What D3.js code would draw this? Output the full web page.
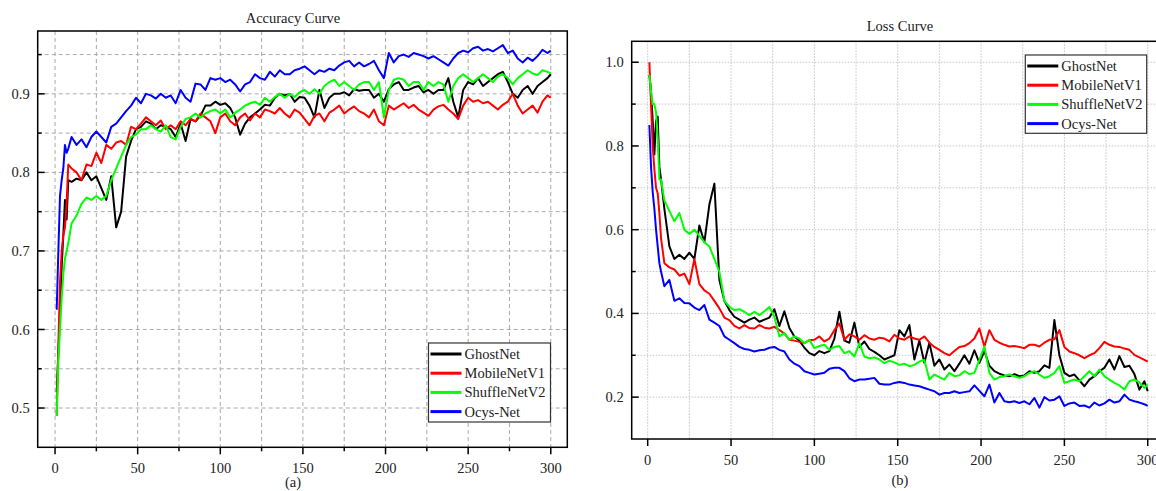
<!DOCTYPE html>
<html lang="en">
<head>
<meta charset="UTF-8">
<title>Accuracy / Loss Curves</title>
<script src="https://d3js.org/d3.v7.min.js"></script>
<style>
  html, body { margin: 0; padding: 0; background: #fff; overflow: hidden; }
  svg { display: block; font-family: "Liberation Serif", "Times New Roman", serif; }
</style>
</head>
<body>
<svg id="chart" width="1156" height="491"></svg>
<script>
const epochs = [1,2,3,4,5,6,7,8,
  10,13,16,19,22,25,28,31,34,37,
  40,43,46,49,52,55,58,61,64,67,
  70,73,76,79,82,85,88,91,94,97,
  100,103,106,109,112,115,118,121,124,127,
  130,133,136,139,142,145,148,151,154,157,
  160,163,166,169,172,175,178,181,184,187,
  190,193,196,199,202,205,208,211,214,217,
  220,223,226,229,232,235,238,241,244,247,
  250,253,256,259,262,265,268,271,274,277,
  280,283,286,289,292,295,298,300];

const modelNames = ["GhostNet", "MobileNetV1", "ShuffleNetV2", "Ocys-Net"];
const modelColors = ["#000000", "#ff0000", "#00ff00", "#0000ff"];

// accuracy (a)
const accGhost = [.52,.57,.62,.68,.72,.765,.74,.79,
  .788,.792,.79,.8,.79,.795,.78,.765,.795,.73,
  .75,.82,.84,.855,.858,.865,.862,.855,.86,.858,
  .855,.845,.862,.84,.868,.865,.872,.885,.885,.89,
  .886,.888,.882,.87,.848,.862,.87,.875,.88,.886,
  .885,.895,.9,.898,.9,.89,.896,.895,.885,.87,
  .905,.882,.895,.9,.9,.902,.898,.906,.904,.905,
  .905,.895,.9,.89,.906,.912,.915,.905,.905,.908,
  .91,.902,.905,.9,.905,.905,.92,.89,.87,.905,
  .915,.912,.92,.91,.915,.92,.925,.928,.915,.9,
  .895,.905,.91,.9,.91,.915,.92,.925];
const accMobile = [.49,.58,.66,.70,.72,.73,.76,.81,
  .805,.8,.79,.81,.808,.825,.812,.835,.83,.838,
  .84,.835,.858,.855,.862,.87,.865,.86,.866,.855,
  .86,.855,.865,.86,.868,.865,.875,.87,.865,.85,
  .87,.875,.865,.86,.87,.875,.866,.875,.87,.88,
  .878,.875,.882,.875,.87,.88,.876,.868,.86,.872,
  .875,.865,.876,.88,.885,.875,.88,.884,.878,.875,
  .87,.88,.865,.86,.885,.88,.884,.888,.882,.886,
  .88,.876,.872,.88,.884,.886,.88,.875,.868,.885,
  .895,.89,.892,.888,.89,.885,.88,.886,.89,.9,
  .885,.875,.88,.885,.876,.89,.898,.895];
const accShuffle = [.49,.56,.60,.64,.67,.69,.70,.71,
  .735,.745,.76,.768,.765,.77,.765,.77,.79,.805,
  .82,.835,.845,.848,.855,.855,.86,.855,.852,.86,
  .845,.842,.858,.868,.87,.875,.87,.875,.878,.88,
  .875,.88,.87,.876,.88,.885,.888,.89,.886,.895,
  .89,.896,.9,.895,.9,.896,.902,.905,.9,.906,
  .9,.91,.915,.918,.91,.915,.91,.905,.912,.915,
  .915,.905,.915,.87,.905,.918,.92,.918,.91,.915,
  .915,.905,.915,.91,.915,.912,.89,.91,.92,.925,
  .92,.915,.92,.925,.92,.915,.922,.925,.92,.912,
  .92,.925,.93,.926,.924,.93,.928,.926];
const accOcys = [.625,.70,.77,.79,.805,.835,.825,.83,
  .845,.835,.842,.832,.845,.852,.845,.838,.858,.862,
  .87,.878,.885,.895,.888,.9,.898,.894,.9,.895,
  .898,.888,.905,.895,.89,.913,.912,.905,.92,.918,
  .92,.915,.918,.912,.903,.912,.915,.925,.92,.918,
  .928,.922,.93,.925,.925,.93,.932,.935,.93,.925,
  .93,.928,.932,.93,.936,.94,.942,.935,.94,.935,
  .938,.942,.93,.92,.952,.94,.948,.95,.947,.952,
  .95,.948,.945,.948,.944,.94,.936,.945,.952,.955,
  .953,.958,.96,.955,.957,.954,.958,.962,.952,.955,
  .945,.94,.946,.942,.948,.956,.952,.955];

// loss (b)
const lossGhost = [.97,.93,.86,.78,.86,.87,.75,.72,
  .65,.56,.53,.54,.53,.545,.53,.61,.57,.66,
  .71,.48,.43,.408,.392,.385,.378,.385,.39,.38,
  .385,.39,.41,.37,.405,.365,.345,.335,.318,.305,
  .3,.31,.305,.31,.34,.404,.335,.33,.378,.32,
  .333,.315,.308,.3,.29,.295,.3,.36,.345,.372,
  .29,.335,.282,.33,.275,.29,.266,.278,.262,.28,
  .3,.28,.312,.282,.31,.275,.262,.256,.252,.25,
  .255,.25,.252,.262,.258,.262,.276,.27,.384,.3,
  .258,.25,.254,.24,.226,.242,.25,.262,.27,.29,
  .266,.298,.272,.275,.255,.218,.238,.214];
const lossMobile = [1.0,.9,.8,.745,.7,.687,.64,.58,
  .52,.51,.505,.49,.495,.47,.53,.47,.455,.447,
  .43,.412,.39,.384,.37,.364,.372,.365,.364,.372,
  .366,.364,.368,.36,.352,.337,.335,.332,.329,.336,
  .337,.345,.333,.34,.36,.376,.337,.35,.345,.337,
  .348,.34,.337,.342,.34,.333,.349,.34,.337,.345,
  .34,.337,.345,.33,.32,.313,.305,.3,.31,.32,
  .322,.329,.34,.364,.321,.36,.337,.33,.325,.321,
  .322,.32,.317,.325,.325,.321,.33,.337,.338,.36,
  .32,.309,.305,.3,.293,.3,.305,.317,.332,.325,
  .321,.32,.316,.313,.301,.295,.289,.285];
const lossShuffle = [.97,.93,.9,.9,.88,.82,.72,.72,
  .67,.645,.62,.64,.6,.59,.6,.585,.57,.56,
  .53,.5,.43,.416,.408,.41,.404,.396,.404,.396,
  .405,.415,.392,.345,.353,.337,.345,.34,.329,.337,
  .317,.322,.325,.313,.32,.322,.305,.31,.297,.329,
  .297,.293,.295,.29,.281,.287,.283,.277,.28,.274,
  .277,.285,.289,.242,.254,.248,.242,.258,.25,.252,
  .262,.255,.258,.289,.321,.258,.242,.248,.25,.254,
  .25,.246,.25,.258,.262,.254,.246,.25,.258,.274,
  .234,.238,.242,.238,.25,.262,.25,.266,.25,.242,
  .234,.228,.218,.238,.242,.235,.222,.23];
const lossOcys = [.85,.75,.69,.65,.6,.56,.52,.5,
  .465,.48,.43,.436,.425,.424,.414,.408,.42,.385,
  .378,.37,.345,.337,.329,.32,.315,.313,.309,.312,
  .313,.318,.32,.313,.309,.29,.28,.274,.262,.258,
  .254,.256,.258,.268,.27,.27,.262,.245,.238,.242,
  .242,.244,.246,.232,.23,.23,.234,.236,.234,.23,
  .228,.226,.222,.218,.214,.206,.21,.21,.214,.21,
  .212,.214,.228,.215,.202,.23,.187,.21,.19,.188,
  .19,.186,.19,.183,.198,.175,.2,.192,.194,.202,
  .179,.185,.187,.179,.18,.175,.187,.18,.185,.194,
  .187,.19,.206,.194,.19,.187,.183,.179];

const accTicks = [0.5, 0.6, 0.7, 0.8, 0.9];
const accMinor = [0.55, 0.65, 0.75, 0.85, 0.95];
const lossTicks = [0.2, 0.4, 0.6, 0.8, 1.0];
const lossMinor = [0.3, 0.5, 0.7, 0.9];
const epochTicks = [0, 50, 100, 150, 200, 250, 300];
const epochMinor = [25, 75, 125, 175, 225, 275];

const svg = d3.select("#chart");
svg.append("rect").attr("width", 1156).attr("height", 491).attr("fill", "#fff");

function drawPanel(opt) {
  const x = opt.x, y = opt.y;
  const [x0, x1] = x.range();
  const [y0, y1] = y.range(); // y0 bottom, y1 top
  const g = svg.append("g");

  // grid
  const gridX = epochTicks.concat(epochMinor);
  const gridY = opt.yGrid;
  g.selectAll(".gx").data(gridX).enter().append("line")
    .attr("x1", d => x(d)).attr("x2", d => x(d))
    .attr("y1", y1).attr("y2", y0)
    .attr("stroke", opt.gridColor).attr("stroke-width", 1)
    .attr("stroke-dasharray", opt.gridDash);
  g.selectAll(".gy").data(gridY).enter().append("line")
    .attr("x1", x0).attr("x2", x1)
    .attr("y1", d => y(d)).attr("y2", d => y(d))
    .attr("stroke", opt.gridColor).attr("stroke-width", 1)
    .attr("stroke-dasharray", opt.gridDash);

  // clip
  const clipId = "clip-" + opt.id;
  svg.append("clipPath").attr("id", clipId).append("rect")
    .attr("x", x0).attr("y", y1).attr("width", x1 - x0).attr("height", y0 - y1);

  const line = d3.line().x(d => x(d[0])).y(d => y(d[1]));
  const lines = g.append("g").attr("clip-path", `url(#${clipId})`);
  opt.series.forEach((s, i) => {
    lines.append("path")
      .datum(d3.zip(epochs, s))
      .attr("d", line)
      .attr("fill", "none")
      .attr("stroke", modelColors[i])
      .attr("stroke-width", 2)
      .attr("stroke-linejoin", "round");
  });

  // frame
  g.append("rect")
    .attr("x", x0).attr("y", y1).attr("width", x1 - x0).attr("height", y0 - y1)
    .attr("fill", "none").attr("stroke", "#000").attr("stroke-width", 1.5);

  // x ticks (outward)
  g.selectAll(".xt").data(epochTicks).enter().append("line")
    .attr("x1", d => x(d)).attr("x2", d => x(d))
    .attr("y1", y0).attr("y2", y0 + 7)
    .attr("stroke", "#000").attr("stroke-width", 1.5);
  if (opt.xMinor) {
    g.selectAll(".xm").data(epochMinor).enter().append("line")
      .attr("x1", d => x(d)).attr("x2", d => x(d))
      .attr("y1", y0).attr("y2", y0 + 4)
      .attr("stroke", "#000").attr("stroke-width", 1.5);
  }
  g.selectAll(".xl").data(epochTicks).enter().append("text")
    .attr("x", d => x(d)).attr("y", y0 + opt.xLabelOffset)
    .attr("text-anchor", "middle").attr("font-size", "14.5px").attr("fill", "#222")
    .text(d => d);

  // y ticks (inward)
  g.selectAll(".yt").data(opt.yTicks).enter().append("line")
    .attr("x1", x0).attr("x2", x0 + 7)
    .attr("y1", d => y(d)).attr("y2", d => y(d))
    .attr("stroke", "#000").attr("stroke-width", 1.5);
  g.selectAll(".ym").data(opt.yMinor).enter().append("line")
    .attr("x1", x0).attr("x2", x0 + 4)
    .attr("y1", d => y(d)).attr("y2", d => y(d))
    .attr("stroke", "#000").attr("stroke-width", 1.5);
  g.selectAll(".yl").data(opt.yTicks).enter().append("text")
    .attr("x", x0 - 8).attr("y", d => y(d)).attr("dy", "0.35em")
    .attr("text-anchor", "end").attr("font-size", "14.5px").attr("fill", "#222")
    .text(d => d.toFixed(1));

  // titles
  g.append("text").attr("x", opt.titleX).attr("y", opt.titleY)
    .attr("text-anchor", "middle").attr("font-size", "14.5px").attr("fill", "#222")
    .text(opt.title);
  g.append("text").attr("x", opt.titleX).attr("y", opt.capY)
    .attr("text-anchor", "middle").attr("font-size", "14.5px").attr("fill", "#222")
    .text(opt.caption);

  // legend
  const L = opt.legend;
  const lg = g.append("g").attr("transform", `translate(${L.x},${L.y})`);
  lg.append("rect").attr("width", L.w).attr("height", L.h)
    .attr("fill", "#fff").attr("stroke", "#333").attr("stroke-width", 1.2);
  modelNames.forEach((name, i) => {
    const cy = 11 + i * 19.2;
    lg.append("line").attr("x1", 2).attr("x2", 33).attr("y1", cy).attr("y2", cy)
      .attr("stroke", modelColors[i]).attr("stroke-width", 3);
    lg.append("text").attr("x", 36).attr("y", cy).attr("dy", "0.35em")
      .attr("font-size", "14.5px").attr("fill", "#222").text(name);
  });
}

drawPanel({
  id: "acc",
  x: d3.scaleLinear().domain([-10.5, 310]).range([37.7, 567.3]),
  y: d3.scaleLinear().domain([0.45, 0.98]).range([447.3, 31]),
  yGrid: accTicks.concat(accMinor),
  gridColor: "#aaaaaa", gridDash: "4,3",
  series: [accGhost, accMobile, accShuffle, accOcys],
  yTicks: accTicks, yMinor: accMinor, xMinor: true,
  xLabelOffset: 26,
  title: "Accuracy Curve", caption: "(a)", titleX: 293, titleY: 23, capY: 487,
  legend: { x: 428.5, y: 343, w: 122, h: 79 }
});

drawPanel({
  id: "loss",
  x: d3.scaleLinear().domain([-9.6, 310]).range([631.7, 1164.4]),
  y: d3.scaleLinear().domain([0.1, 1.05]).range([439, 41.3]),
  yGrid: lossTicks.concat(lossMinor),
  gridColor: "#c4c4c4", gridDash: "1.5,1.5",
  series: [lossGhost, lossMobile, lossShuffle, lossOcys],
  yTicks: lossTicks, yMinor: lossMinor, xMinor: false,
  xLabelOffset: 25.5,
  title: "Loss Curve", caption: "(b)", titleX: 900, titleY: 30.5, capY: 485,
  legend: { x: 1025.3, y: 55, w: 121.4, h: 78.3 }
});
</script>
</body>
</html>
